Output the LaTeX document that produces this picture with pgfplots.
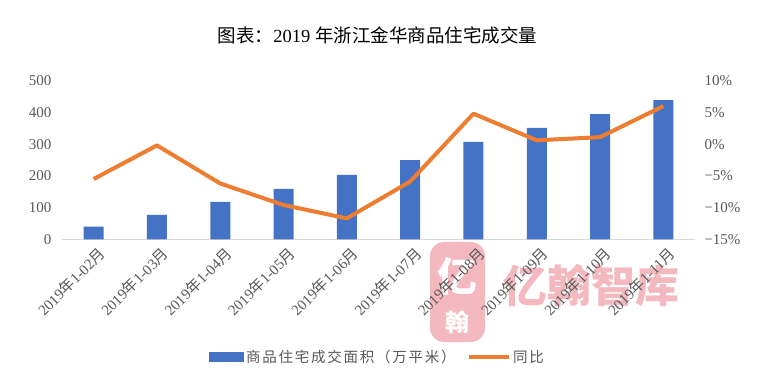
\documentclass[border=0pt]{standalone}
\usepackage{pgfplots}
\pgfplotsset{compat=1.18}
\usepackage{fontspec}
\setmainfont{Liberation Serif}
\newfontfamily\cjk{Noto Sans CJK SC}
\newfontfamily\cjkls[LetterSpace=12]{Noto Sans CJK SC}
\definecolor{barblue}{HTML}{4472C4}
\definecolor{lineorange}{HTML}{ED7D31}
\definecolor{tickgray}{HTML}{595959}
\definecolor{axisgray}{HTML}{D9D9D9}
\definecolor{wmpink}{HTML}{F3B9BE}
\newcommand{\xl}[1]{2019{\cjk 年}1-#1{\cjk 月}}
\begin{document}
\begin{tikzpicture}[x=1pt,y=1pt]
\useasboundingbox (0,0) rectangle (769,386);
\fill[white] (0,0) rectangle (769,386);
\fill[wmpink, rounded corners=14pt] (430,44) rectangle (485,144);
\node[font=\cjk\bfseries\fontsize{40}{42}\selectfont, text=white] at (457,110) {亿};
\node[font=\cjk\bfseries\fontsize{24}{26}\selectfont, text=white] at (457,64) {翰};
\node[font=\cjk\bfseries\fontsize{44}{48}\selectfont, text=wmpink] at (591,100) {亿翰智库};
\node[font=\fontsize{18.5}{20}\selectfont] at (377.5,351) {{\cjk 图表：}2019 {\cjk 年浙江金华商品住宅成交量}};
\begin{axis}[
  at={(62pt,146.7pt)}, anchor=south west, scale only axis,
  width=633pt, height=158.6pt,
  xmin=-0.5, xmax=9.5, ymin=0, ymax=500,
  xtick={0,...,9},
  xticklabels={\xl{02},\xl{03},\xl{04},\xl{05},\xl{06},\xl{07},\xl{08},\xl{09},\xl{10},\xl{11}},
  ytick={0,100,...,500},
  axis x line*=bottom, axis y line*=left,
  x axis line style={draw=axisgray, line width=1pt, -},
  y axis line style={draw=none},
  major tick length=0pt,
  tick label style={text=tickgray, font=\fontsize{15}{17}\selectfont},
  x tick label style={rotate=45, anchor=north east, inner sep=2pt, yshift=-5pt},
  y tick label style={xshift=-7pt},
  /pgf/number format/assume math mode=true,
  legend style={at={(0.4984,-0.742)}, anchor=center, draw=none, fill=none,
    font=\cjkls\fontsize{14.5}{16}\selectfont, text=tickgray,
    /tikz/every even column/.append style={column sep=10pt}},
  legend columns=2,
]
\addplot[ybar, bar width=20pt, fill=barblue, draw=none,
  legend image code/.code={\fill[barblue] (0pt,-5pt) rectangle (35pt,5pt);}]
  coordinates {(0,40) (1,77) (2,118) (3,159) (4,203) (5,250) (6,307) (7,351) (8,395) (9,439)};
\addlegendentry{商品住宅成交面积（万平米）}
\addlegendimage{lineorange, legend image code/.code={\draw[lineorange, line width=3.5pt] (0pt,0pt) -- (40pt,0pt);}}
\addlegendentry{同比}
\end{axis}
\begin{axis}[
  at={(62pt,146.7pt)}, anchor=south west, scale only axis,
  width=633pt, height=158.6pt,
  xmin=-0.5, xmax=9.5, ymin=-15, ymax=10,
  xtick=\empty,
  ytick={-15,-10,-5,0,5,10},
  yticklabels={−15\%,−10\%,−5\%,0\%,5\%,10\%},
  axis x line=none, axis y line*=right,
  y axis line style={draw=none},
  major tick length=0pt,
  tick label style={text=tickgray, font=\fontsize{15}{17}\selectfont},
  y tick label style={xshift=6pt},
]
\addplot[lineorange, line width=4pt, line join=round, mark=none]
  coordinates {(0,-5.5) (1,-0.2) (2,-6.2) (3,-9.6) (4,-11.7) (5,-5.9) (6,4.8) (7,0.6) (8,1.1) (9,6.0)};
\end{axis}
\end{tikzpicture}
\end{document}
